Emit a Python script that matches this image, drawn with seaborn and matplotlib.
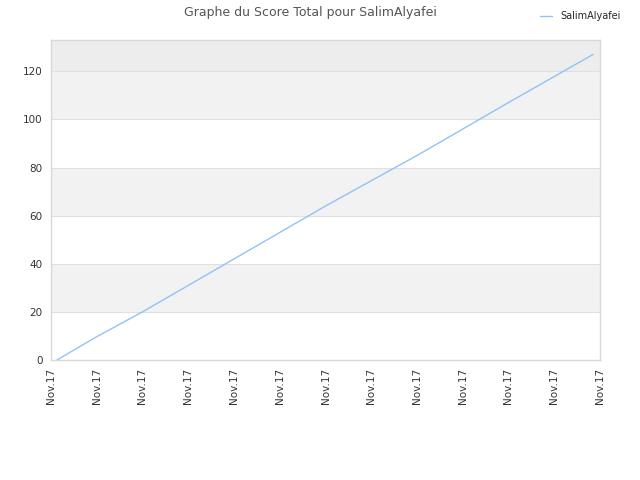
import pandas as pd
import matplotlib
matplotlib.use("Agg")
import matplotlib.pyplot as plt
import seaborn as sns

# Score cumulé (position en graduations, score)
positions = [0.13, 1.0, 2.0, 4.0, 6.0, 8.0, 10.0, 11.85]
scores = [0, 9.7, 20, 42, 64, 85, 107, 127]
tick_labels = ["Nov.17"] * 13
joueur = "SalimAlyafei"

df = pd.DataFrame({"pos": positions, "score": scores, "joueur": joueur})

sns.set_style("white")
plt.rcParams["font.family"] = ["DejaVu Sans"]

fig = plt.figure(figsize=(6.4, 4.8), dpi=100)
ax = fig.add_axes([51 / 640, 120 / 480, 549 / 640, 320 / 480])

# bandes alternées du fond
for lo, hi, c in [(20, 40, "#f2f2f2"), (60, 80, "#f2f2f2"), (100, 120, "#f2f2f2"), (120, 140, "#ededed")]:
    ax.axhspan(lo, hi, color=c, zorder=0, lw=0)
for y in range(20, 140, 20):
    ax.axhline(y, color="#e0e0e0", lw=0.8, zorder=1)

sns.lineplot(data=df, x="pos", y="score", hue="joueur", palette=["#90c3f5"],
             linewidth=1, ax=ax, zorder=3)

ax.set_xlim(0, 12)
ax.set_ylim(0, 133)
ax.set_xticks(range(13))
ax.set_xticklabels(tick_labels, rotation=90, fontsize=7.5, color="#333333")
ax.set_yticks(range(0, 140, 20))
ax.tick_params(axis="y", labelsize=7.5, colors="#333333", length=0, pad=6)
ax.tick_params(axis="x", length=0, pad=6)
ax.set_xlabel("")
ax.set_ylabel("")
for s in ax.spines.values():
    s.set_color("#d8d8d8")
    s.set_linewidth(1)

fig.text(0.485, 0.988, "Graphe du Score Total pour SalimAlyafei", ha="center", va="top",
         fontsize=9, color="#555555")
ax.legend(loc="upper left", bbox_to_anchor=(0.83, 0.995), bbox_transform=fig.transFigure,
          frameon=False, fontsize=7, handlelength=1.2, handletextpad=0.9)

fig.savefig("out.png", dpi=100)
